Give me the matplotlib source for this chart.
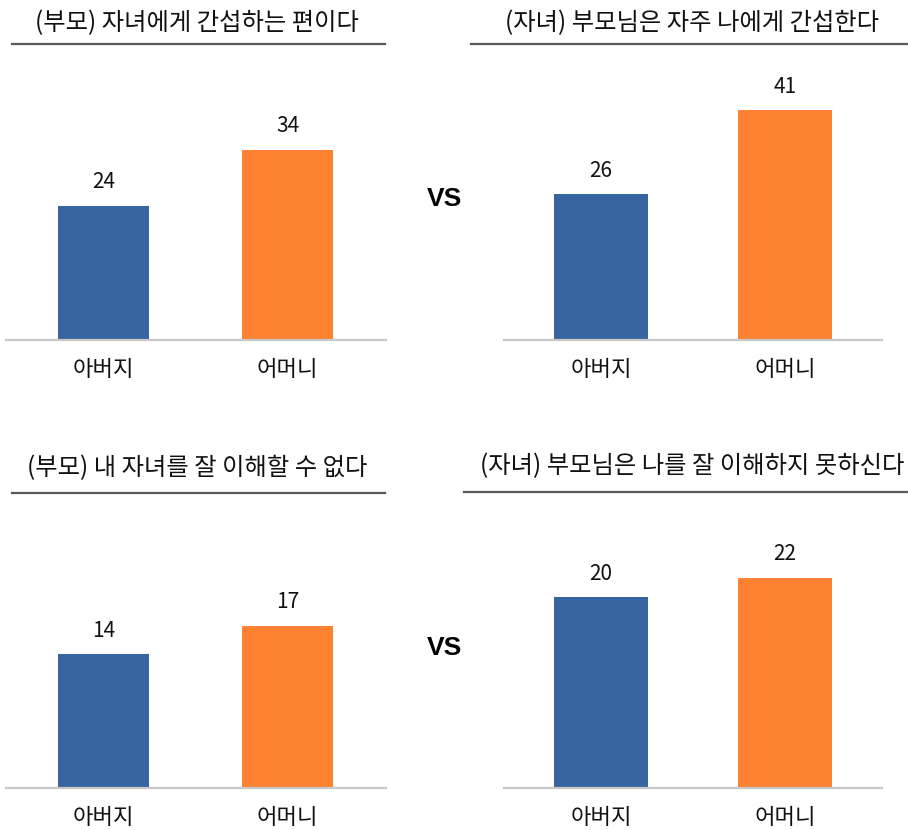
import matplotlib
matplotlib.use("Agg")
import matplotlib.pyplot as plt
from matplotlib.lines import Line2D

plt.rcParams['font.family'] = ['Noto Sans CJK KR', 'DejaVu Sans']

# data
categories = ['아버지', '어머니']
interfere_parent = [24, 34]
interfere_child = [26, 41]
understand_parent = [14, 17]
understand_child = [20, 22]
titles = ['(부모) 자녀에게 간섭하는 편이다',
          '(자녀) 부모님은 자주 나에게 간섭한다',
          '(부모) 내 자녀를 잘 이해할 수 없다',
          '(자녀) 부모님은 나를 잘 이해하지 못하신다']

BLUE = '#3765A0'
ORANGE = '#FF8232'
W, H = 908, 830

fig = plt.figure(figsize=(W / 100, H / 100), dpi=100)


def px_axes(x0, x1, ytop, ybot):
    return fig.add_axes([x0 / W, 1 - ybot / H, (x1 - x0) / W, (ybot - ytop) / H])


def bar_panel(ax, values, ymax, xlim, width):
    xs = range(len(values))
    bars = ax.bar(xs, values, width=width, color=[BLUE, ORANGE])
    for b, v in zip(bars, values):
        ax.annotate(str(v), (b.get_x() + b.get_width() / 2, v),
                    xytext=(0, 9), textcoords='offset points',
                    ha='center', va='bottom', fontsize=15, color='#111111')
    ax.set_ylim(0, ymax)
    ax.set_xlim(*xlim)
    ax.set_xticks(list(xs))
    ax.set_xticklabels(categories, fontsize=16, color='#111111')
    ax.tick_params(axis='x', length=0, pad=13)
    ax.set_yticks([])
    for s in ['top', 'left', 'right']:
        ax.spines[s].set_visible(False)
    ax.spines['bottom'].set_color('#C8C8C8')
    ax.spines['bottom'].set_linewidth(1.6)


ax1 = px_axes(6, 386, 60, 340)
bar_panel(ax1, interfere_parent, 50, (-0.53, 1.535), 0.495)
ax2 = px_axes(504, 882, 60, 340)
bar_panel(ax2, interfere_child, 50, (-0.527, 1.527), 0.51)
ax3 = px_axes(6, 386, 510, 788)
bar_panel(ax3, understand_parent, 278 / 9.55, (-0.53, 1.535), 0.495)
ax4 = px_axes(504, 882, 510, 788)
bar_panel(ax4, understand_child, 278 / 9.55, (-0.527, 1.527), 0.51)

# titles with underline
title_pos = [(197, 23, 12, 385, 44), (692, 23, 471, 908, 44),
             (197, 468, 12, 385, 493), (692, 466, 464, 908, 492)]
for t, (cx, cy, lx0, lx1, ly) in zip(titles, title_pos):
    fig.text(cx / W, 1 - cy / H, t, ha='center', va='center',
             fontsize=17.5, color='#111111')
    fig.add_artist(Line2D([lx0 / W, lx1 / W], [1 - ly / H, 1 - ly / H],
                          color='#595959', linewidth=1.6))

for vy in [199, 648]:
    fig.text(444 / W, 1 - vy / H, 'VS', ha='center', va='center',
             fontsize=19, fontweight='bold', family='Liberation Sans', color='black')

fig.savefig('out.png', dpi=100)
